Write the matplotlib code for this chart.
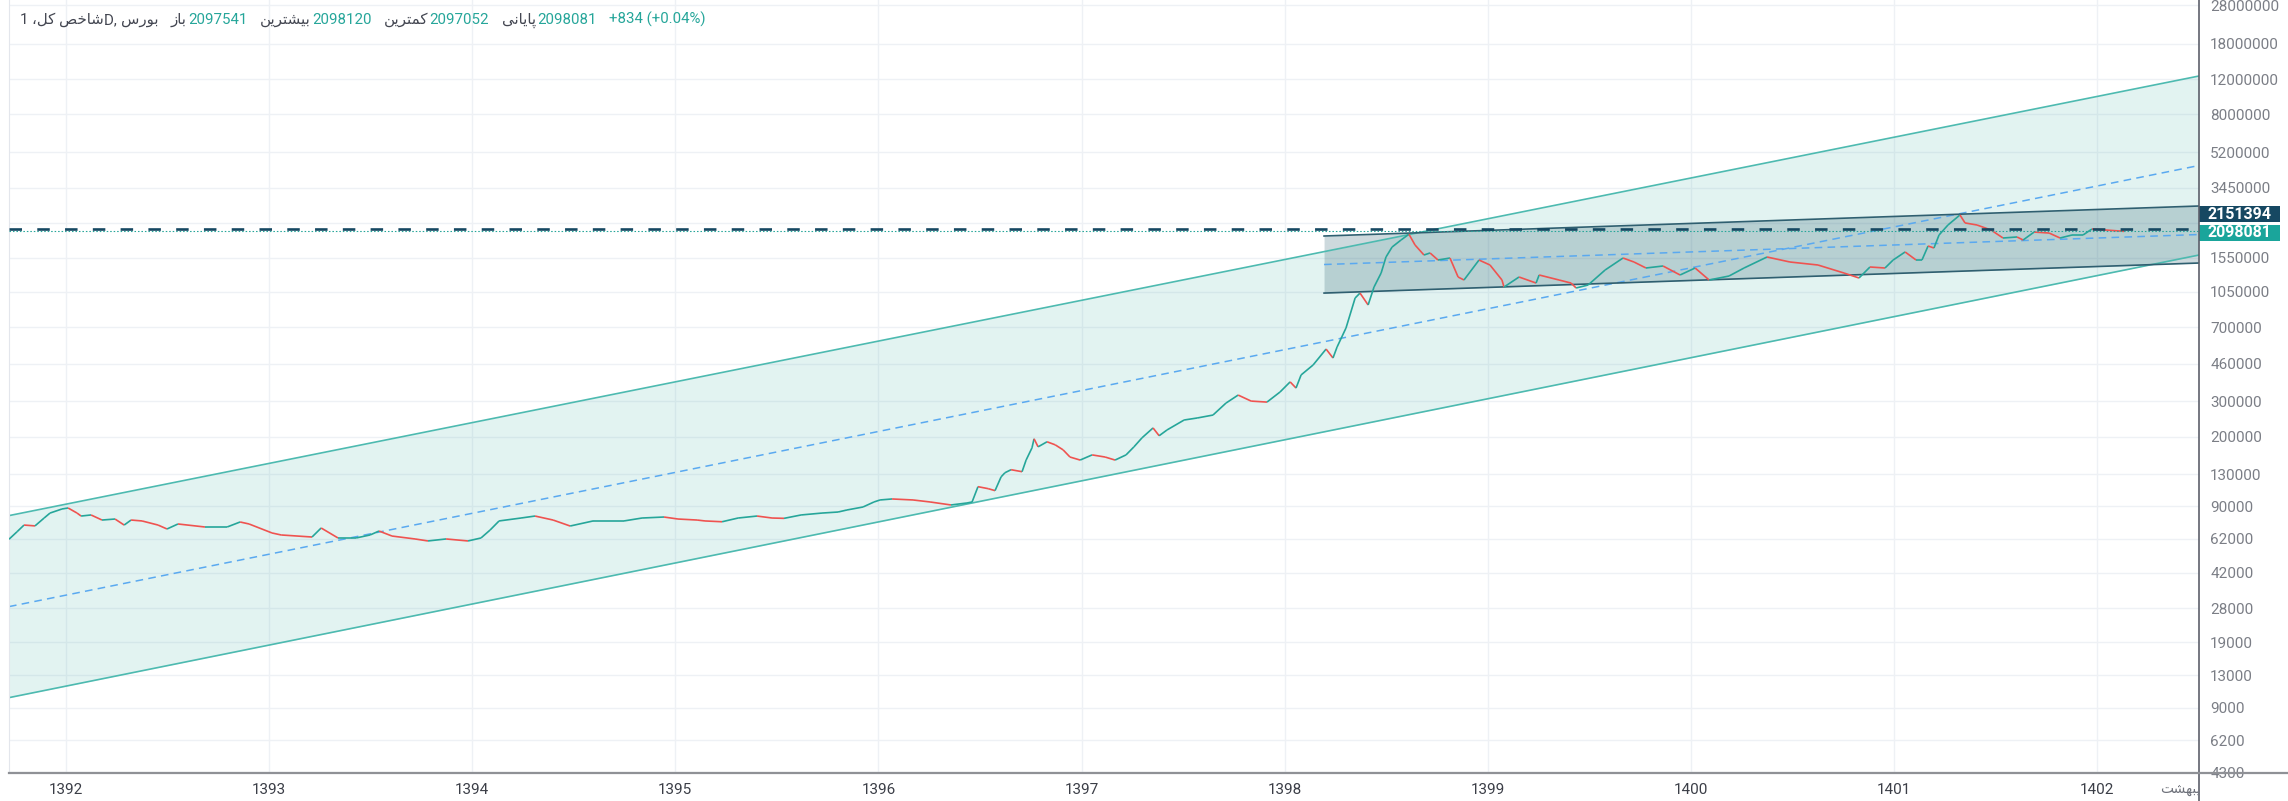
import matplotlib
matplotlib.use("Agg")
import matplotlib.pyplot as plt
from matplotlib.collections import LineCollection
from matplotlib.offsetbox import TextArea, HPacker, AnchoredOffsetbox, DrawingArea, AnnotationBbox
from matplotlib.patches import Rectangle
from matplotlib.text import Text
from matplotlib.lines import Line2D
from matplotlib.ticker import NullLocator
from matplotlib.transforms import Bbox, TransformedBbox

plt.rcParams["lines.scale_dashes"] = False
plt.rcParams["font.family"] = ["Roboto", "DejaVu Sans"]

# ---- data (x in solar years, y = index value) ----
price_years = [
    1391.719, 1391.759, 1391.793, 1391.847, 1391.892, 1391.921, 1391.980, 1392.010,
    1392.054, 1392.074, 1392.123, 1392.177, 1392.241, 1392.286, 1392.320, 1392.374,
    1392.453, 1392.497, 1392.551, 1392.684, 1392.793, 1392.857, 1392.901, 1393.014,
    1393.059, 1393.211, 1393.256, 1393.339, 1393.428, 1393.497, 1393.541, 1393.605,
    1393.718, 1393.782, 1393.871, 1393.979, 1394.043, 1394.088, 1394.132, 1394.240,
    1394.309, 1394.398, 1394.482, 1394.595, 1394.747, 1394.836, 1394.944, 1395.013,
    1395.107, 1395.146, 1395.230, 1395.309, 1395.402, 1395.476, 1395.535, 1395.619,
    1395.722, 1395.801, 1395.845, 1395.924, 1395.978, 1396.008, 1396.067, 1396.170,
    1396.254, 1396.357, 1396.436, 1396.461, 1396.490, 1396.540, 1396.574, 1396.604,
    1396.623, 1396.653, 1396.707, 1396.727, 1396.756, 1396.766, 1396.786, 1396.830,
    1396.870, 1396.909, 1396.943, 1396.993, 1397.052, 1397.116, 1397.165, 1397.219,
    1397.258, 1397.298, 1397.352, 1397.382, 1397.421, 1397.505, 1397.569, 1397.647,
    1397.711, 1397.771, 1397.835, 1397.913, 1397.977, 1398.027, 1398.056, 1398.081,
    1398.140, 1398.204, 1398.238, 1398.258, 1398.302, 1398.347, 1398.371, 1398.411,
    1398.440, 1398.475, 1398.499, 1398.529, 1398.573, 1398.612, 1398.642, 1398.686,
    1398.716, 1398.755, 1398.814, 1398.854, 1398.883, 1398.957, 1399.011, 1399.070,
    1399.080, 1399.154, 1399.238, 1399.253, 1399.351, 1399.410, 1399.435, 1399.494,
    1399.578, 1399.666, 1399.720, 1399.779, 1399.863, 1399.947, 1400.021, 1400.090,
    1400.188, 1400.262, 1400.375, 1400.488, 1400.626, 1400.754, 1400.828, 1400.882,
    1400.956, 1400.996, 1401.055, 1401.109, 1401.138, 1401.168, 1401.197, 1401.222,
    1401.266, 1401.325, 1401.350, 1401.409, 1401.478, 1401.537, 1401.606, 1401.636,
    1401.690, 1401.764, 1401.818, 1401.877, 1401.931, 1401.975, 1402.044, 1402.133,
]
price_values = [
    61800, 67400, 72700, 72000, 78800, 83400, 87400, 88400,
    83400, 80600, 81600, 77000, 77900, 72700, 77000, 76200,
    72700, 69500, 73600, 71100, 71100, 75300, 73600, 66400,
    64900, 63400, 70300, 62700, 62700, 64900, 67900, 64100,
    62000, 60600, 62000, 60600, 62700, 68700, 76200, 78800,
    80600, 77000, 71900, 76200, 76200, 78800, 79700, 77900,
    77000, 76200, 75500, 78800, 80600, 78800, 78500, 81600,
    83400, 84400, 86400, 89400, 94700, 96900, 98000, 96900,
    94700, 91500, 93600, 94700, 112800, 110300, 107800, 126300,
    132400, 137000, 133900, 153000, 176000, 195200, 178000, 188600,
    182200, 172000, 158400, 153000, 162300, 158400, 153000, 162300,
    178000, 197500, 221000, 202100, 216000, 242000, 247600, 256100,
    293700, 322000, 300500, 297100, 333300, 374400, 348900, 405400,
    454300, 545200, 492100, 557900, 693700, 978000, 1035000, 903000,
    1109000, 1302000, 1564000, 1753000, 1900000, 2030000, 1794000, 1600000,
    1638000, 1511000, 1546000, 1244000, 1202000, 1511000, 1427000, 1202000,
    1109000, 1244000, 1161000, 1273000, 1202000, 1161000, 1097000, 1135000,
    1348000, 1546000, 1477000, 1379000, 1411000, 1273000, 1379000, 1202000,
    1258000, 1379000, 1564000, 1477000, 1427000, 1302000, 1230000, 1395000,
    1379000, 1511000, 1657000, 1511000, 1511000, 1774000, 1734000, 2012000,
    2256000, 2531000, 2310000, 2256000, 2130000, 1944000, 1967000, 1900000,
    2081000, 2058000, 1944000, 2012000, 2012000, 2155000, 2130000, 2098081,
]

# long regression channel (upper / middle / lower) at both ends
big_years = [1391.719, 1402.502]
big_upper = [81000, 12420000]
big_middle = [28580, 4459000]
big_lower = [10080, 1600000]

# short channel drawn from 1398
small_years = [1398.194, 1402.502]
small_upper = [1989000, 2804000]
small_middle = [1435000, 2023000]
small_lower = [1035000, 1460000]

level_line = 2151394
last_close = 2098081

year_ticks = [1392, 1393, 1394, 1395, 1396, 1397, 1398, 1399, 1400, 1401, 1402]
year_labels = [str(y) for y in year_ticks]
ytick_values = [28000000, 18000000, 12000000, 8000000, 5200000, 3450000, 2300000,
                1550000, 1050000, 700000, 460000, 300000, 200000, 130000, 90000,
                62000, 42000, 28000, 19000, 13000, 9000, 6200, 4300]
ytick_labels = [str(v) for v in ytick_values]
ytick_labels[6] = ""  # hidden behind the price labels

header_title = "شاخص کل،"
header_exchange = "بورس"
header_labels = ["باز", "بیشترین", "کمترین", "پایانی"]
header_values = ["2097541", "2098120", "2097052", "2098081"]
header_change = "+834 (+0.04%)"
month_label = "اردیبهشت"

TEAL = "#26a69a"
RED = "#ef5350"
NAVY = "#164862"
DARK = "#434651"

# ---- poor man's arabic shaping (matplotlib does no shaping / bidi) ----
FORMS = {
    "\u0627": ("\uFE8D", "\uFE8E", None, None),
    "\u0628": ("\uFE8F", "\uFE90", "\uFE91", "\uFE92"),
    "\u067E": ("\uFB56", "\uFB57", "\uFB58", "\uFB59"),
    "\u062A": ("\uFE95", "\uFE96", "\uFE97", "\uFE98"),
    "\u062E": ("\uFEA5", "\uFEA6", "\uFEA7", "\uFEA8"),
    "\u062F": ("\uFEA9", "\uFEAA", None, None),
    "\u0631": ("\uFEAD", "\uFEAE", None, None),
    "\u0632": ("\uFEAF", "\uFEB0", None, None),
    "\u0633": ("\uFEB1", "\uFEB2", "\uFEB3", "\uFEB4"),
    "\u0634": ("\uFEB5", "\uFEB6", "\uFEB7", "\uFEB8"),
    "\u0635": ("\uFEB9", "\uFEBA", "\uFEBB", "\uFEBC"),
    "\u06A9": ("\uFB8E", "\uFB8F", "\uFB90", "\uFB91"),
    "\u0644": ("\uFEDD", "\uFEDE", "\uFEDF", "\uFEE0"),
    "\u0645": ("\uFEE1", "\uFEE2", "\uFEE3", "\uFEE4"),
    "\u0646": ("\uFEE5", "\uFEE6", "\uFEE7", "\uFEE8"),
    "\u0647": ("\uFEE9", "\uFEEA", "\uFEEB", "\uFEEC"),
    "\u0648": ("\uFEED", "\uFEEE", None, None),
    "\u06CC": ("\uFBFC", "\uFBFD", "\uFBFE", "\uFBFF"),
}


def shape(word):
    word = word.replace("\u0643", "\u06A9").replace("\u064A", "\u06CC")
    out = []
    for i, ch in enumerate(word):
        if ch not in FORMS:
            out.append(ch)
            continue
        prev = word[i - 1] if i > 0 else None
        nxt = word[i + 1] if i + 1 < len(word) else None
        join_prev = prev in FORMS and FORMS[prev][2] is not None
        join_next = nxt in FORMS and FORMS[ch][2] is not None
        iso, fin, ini, med = FORMS[ch]
        if join_prev and join_next:
            out.append(med)
        elif join_prev:
            out.append(fin)
        elif join_next:
            out.append(ini)
        else:
            out.append(iso)
    return "".join(reversed(out))


# ---- figure ----
W, H = 2288, 801
fig = plt.figure(figsize=(W / 100, H / 100), dpi=100)
ax = fig.add_axes([9 / W, 28 / H, (2199 - 9) / W, 773 / H])
ax.set_yscale("log")

ax.set_axisbelow(True)
ax.grid(True, color="#eef1f5", lw=1.0)

# channels
ax.fill_between(big_years, big_lower, big_upper, color=TEAL, alpha=0.13, lw=0, zorder=1)
ax.plot(big_years, big_upper, color="#4dbab0", lw=1.2, zorder=2)
ax.plot(big_years, big_lower, color="#4dbab0", lw=1.2, zorder=2)
ax.plot(big_years, big_middle, color="#5aa9f0", lw=1.1, dashes=(5.5, 3.8), zorder=2)

ax.fill_between(small_years, small_lower, small_upper, color="#1f5566", alpha=0.22, lw=0, zorder=1.5)
ax.plot(small_years, small_upper, color="#2f5f70", lw=1.2, zorder=2)
ax.plot(small_years, small_lower, color="#2f5f70", lw=1.2, zorder=2)
ax.plot(small_years, small_middle, color="#5aa9f0", lw=1.1, dashes=(5.5, 3.8), zorder=2)

# price path, coloured by direction
segs = []
cols = []
for i in range(len(price_years) - 1):
    segs.append([(price_years[i], price_values[i]), (price_years[i + 1], price_values[i + 1])])
    cols.append(TEAL if price_values[i + 1] >= price_values[i] else RED)
ax.add_collection(LineCollection(segs, colors=cols, linewidths=1.2, zorder=3))

ax.axhline(level_line, color=NAVY, lw=1.9, dashes=(9, 11), zorder=5)
ax.axhline(last_close, color=TEAL, lw=0.8, dashes=(1.1, 1.4), zorder=4)

ax.set_xlim(1391.719, 1402.502)
ax.set_ylim(4254, 29650000)

ax.set_xticks(year_ticks)
ax.set_xticklabels(year_labels)
ax.tick_params(axis="x", length=0, pad=7, labelsize=11, labelcolor="#3b3e47")
ax.yaxis.tick_right()
ax.set_yticks(ytick_values)
ax.set_yticklabels(ytick_labels)
ax.yaxis.set_minor_locator(NullLocator())
ax.tick_params(axis="y", length=0, pad=8, labelsize=11, labelcolor="#7b7e86")

for side in ["top", "right", "bottom"]:
    ax.spines[side].set_visible(False)
ax.spines["left"].set_color("#e3e6ec")

# scale frame lines
fig.add_artist(Line2D([2199 / W, 2199 / W], [0, 1], transform=fig.transFigure, color="#5d606b", lw=1.2))
fig.add_artist(Line2D([9 / W, 1], [28 / H, 28 / H], transform=fig.transFigure, color="#8f9196", lw=1.6))

# price labels on the scale
for value, color, dy in [(level_line, NAVY, 14.7), (last_close, "#1aa59b", -1.2)]:
    da = DrawingArea(81 * 0.72, 16 * 0.72, 0, 0)
    da.add_artist(Rectangle((0, 0), 81 * 0.72, 16 * 0.72, fc=color, ec="none"))
    da.add_artist(Text(81 * 0.36, 16 * 0.36, str(value), ha="center", va="center",
                       color="white", fontsize=11.5, fontweight="bold"))
    ab = AnnotationBbox(da, (1, value), xycoords=("axes fraction", "data"),
                        xybox=(40.5, dy), boxcoords="offset pixels", frameon=False,
                        pad=0, box_alignment=(0.5, 0.5), annotation_clip=False, zorder=6)
    ax.add_artist(ab)

# header legend
def ta(s, color):
    return TextArea(s, textprops=dict(color=color, fontsize=10.8))

title = HPacker(children=[ta("1 ", DARK), ta(shape(header_title), DARK), ta("D, ", DARK),
                          ta(shape(header_exchange), DARK)], sep=0, pad=0, align="baseline")
items = [title]
for lab, val in zip(header_labels, header_values):
    items.append(HPacker(children=[ta(shape(lab), DARK), ta(val, TEAL)], sep=1, pad=0, align="baseline"))
items.append(ta(header_change, TEAL))
header = HPacker(children=items, sep=9, pad=0, align="baseline")
box = AnchoredOffsetbox(loc="upper left", child=header, pad=0, borderpad=0, frameon=False,
                        bbox_to_anchor=(20 / W, 1 - 12 / H), bbox_transform=fig.transFigure)
fig.add_artist(box)

# month label at the end of the time scale, cut by the price scale
t = fig.text(2160 / W, 12 / H, shape(month_label), ha="left", va="center",
             fontsize=10, color="#6f727b")
t.set_clip_box(TransformedBbox(Bbox.from_extents(0, 0, 2198 / W, 1), fig.transFigure))
t.set_clip_on(True)

fig.savefig("out.png", dpi=100)
